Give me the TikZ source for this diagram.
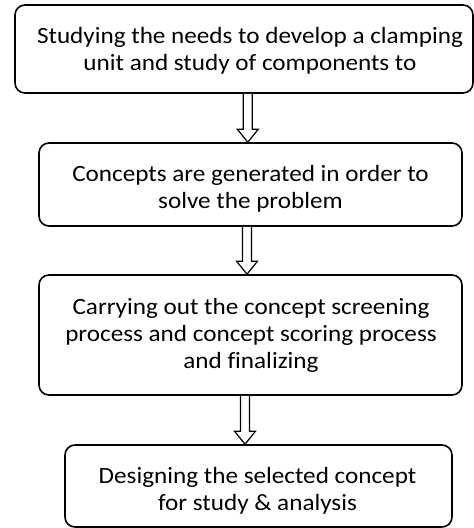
\documentclass[tikz,border=0pt]{standalone}
\usepackage{fontspec}
\setmainfont{Carlito}[FakeStretch=1.08, Ligatures=NoCommon]
\usetikzlibrary{calc}
\tikzset{
  stepbox/.style={draw=black, line width=1.6pt, rounded corners=10pt, inner sep=0pt},
  steptext/.style={align=center, font=\fontsize{23.3}{27}\selectfont, inner sep=0pt, anchor=base},
  fatarrow/.style={draw=black, line width=1.2pt, fill=white}
}
\newcommand\hollowarrow[3]{%
  \draw[fatarrow] let \p1=(#1.south -| #3), \p2=(#2.north -| #3) in
    (\x1-4.5pt,\y1) -- (\x1-4.5pt,\y2+13pt) -- (\x1-10.5pt,\y2+13pt) -- (\x2,\y2)
    -- (\x1+10.5pt,\y2+13pt) -- (\x1+4.5pt,\y2+13pt) -- (\x1+4.5pt,\y1);%
}
\begin{document}
\begin{tikzpicture}[x=1pt,y=-1pt]
\useasboundingbox (0,0) rectangle (474,528);
\node[stepbox, minimum width=458pt, minimum height=88pt] (b1) at (244,49) {};
\node[stepbox, minimum width=423pt, minimum height=83pt] (b2) at (250.5,184.5) {};
\node[stepbox, minimum width=423pt, minimum height=120pt] (b3) at (250.5,335) {};
\node[stepbox, minimum width=387pt, minimum height=82pt] (b4) at (258.5,486) {};
\node[steptext] (t1) at (250,70.5) {Studying the needs to develop a clamping\\unit and study of components to};
\node[steptext] (t2) at (250.5,208) {Concepts are generated in order to\\solve the problem};
\node[steptext] (t3) at (251,368.5) {Carrying out the concept screening\\process and concept scoring process\\and finalizing};
\node[steptext] (t4) at (257.5,510.3) {Designing the selected concept\\for study \& analysis};
\coordinate (a1) at (247.8,0);
\coordinate (a2) at (247,0);
\coordinate (a3) at (245,0);
\hollowarrow{b1}{b2}{a1}
\hollowarrow{b2}{b3}{a2}
\hollowarrow{b3}{b4}{a3}
\end{tikzpicture}
\end{document}
